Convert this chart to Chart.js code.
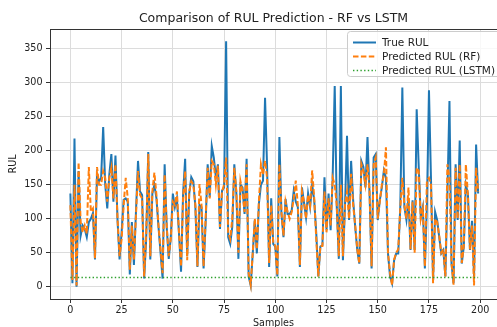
<!DOCTYPE html>
<html>
<head>
<meta charset="utf-8">
<script src="https://cdn.jsdelivr.net/npm/chart.js@4.4.0/dist/chart.umd.min.js"></script>
<style>
  html, body { margin: 0; padding: 0; overflow: hidden; background: #fff; }
</style>
</head>
<body>
<canvas id="myChart" width="497" height="340"></canvas>
<script>
// values, one per sample (0..199)
const trueRul = [
  137, 5, 218, 0, 170, 75, 90, 85, 73, 95,
  100, 108, 40, 165, 155, 160, 235, 150, 115, 165,
  195, 125, 193, 98, 40, 80, 128, 130, 125, 18,
  95, 32, 110, 185, 140, 135, 12, 70, 198, 40,
  137, 150, 130, 88, 50, 12, 180, 88, 41, 73,
  137, 117, 130, 78, 22, 137, 188, 45, 137, 161,
  155, 117, 29, 120, 117, 27, 93, 180, 132, 207,
  190, 161, 180, 85, 141, 146, 361, 73, 63, 88,
  180, 137, 41, 150, 146, 107, 188, 15, 2, 49,
  98, 49, 122, 150, 156, 278, 176, 29, 130, 63,
  59, 15, 220, 107, 73, 129, 107, 107, 112, 141,
  125, 117, 29, 146, 124, 102, 137, 117, 150, 127,
  78, 15, 59, 61, 161, 83, 137, 83, 161, 295,
  117, 41, 295, 39, 117, 222, 98, 185, 127, 88,
  54, 34, 185, 176, 146, 220, 137, 27, 190, 195,
  98, 127, 146, 171, 160, 49, 15, 5, 39, 49,
  49, 117, 293, 117, 98, 130, 54, 127, 54, 261,
  176, 102, 117, 27, 120, 289, 156, 10, 110, 98,
  73, 49, 54, 15, 137, 273, 34, 5, 180, 98,
  215, 34, 59, 150, 137, 54, 97, 15, 209, 137
];

const rfPred = [
  120, 10, 150, 2, 183, 95, 80, 90, 78, 176,
  110, 115, 42, 176, 150, 150, 170, 160, 125, 160,
  175, 130, 180, 100, 45, 70, 120, 160, 130, 25,
  90, 40, 105, 170, 135, 130, 15, 80, 195, 45,
  140, 168, 135, 90, 55, 20, 165, 90, 45, 70,
  125, 120, 140, 80, 30, 130, 170, 39, 140, 155,
  150, 120, 30, 151, 120, 30, 100, 175, 130, 185,
  180, 150, 178, 88, 140, 150, 190, 80, 70, 100,
  175, 140, 50, 155, 140, 110, 180, 20, 3, 50,
  100, 55, 125, 180, 165, 185, 160, 35, 120, 65,
  60, 17, 180, 110, 75, 125, 110, 100, 110, 130,
  156, 120, 32, 140, 125, 100, 135, 120, 171, 130,
  70, 15, 60, 60, 140, 80, 130, 90, 160, 150,
  120, 45, 150, 45, 120, 140, 100, 166, 120, 90,
  55, 34, 180, 170, 150, 180, 140, 30, 180, 190,
  100, 125, 150, 165, 205, 50, 20, 2, 40, 50,
  55, 115, 160, 120, 100, 146, 55, 125, 50, 175,
  170, 100, 115, 30, 156, 160, 150, 5, 100, 95,
  75, 50, 55, 15, 180, 160, 35, 3, 175, 100,
  180, 35, 60, 180, 135, 55, 90, 2, 175, 140
];

// LSTM predicts the same value for every sample
const lstmPred = [
  13.5, 13.5, 13.5, 13.5, 13.5, 13.5, 13.5, 13.5, 13.5, 13.5, 13.5, 13.5, 13.5, 13.5, 13.5, 13.5, 13.5, 13.5, 13.5, 13.5,
  13.5, 13.5, 13.5, 13.5, 13.5, 13.5, 13.5, 13.5, 13.5, 13.5, 13.5, 13.5, 13.5, 13.5, 13.5, 13.5, 13.5, 13.5, 13.5, 13.5,
  13.5, 13.5, 13.5, 13.5, 13.5, 13.5, 13.5, 13.5, 13.5, 13.5, 13.5, 13.5, 13.5, 13.5, 13.5, 13.5, 13.5, 13.5, 13.5, 13.5,
  13.5, 13.5, 13.5, 13.5, 13.5, 13.5, 13.5, 13.5, 13.5, 13.5, 13.5, 13.5, 13.5, 13.5, 13.5, 13.5, 13.5, 13.5, 13.5, 13.5,
  13.5, 13.5, 13.5, 13.5, 13.5, 13.5, 13.5, 13.5, 13.5, 13.5, 13.5, 13.5, 13.5, 13.5, 13.5, 13.5, 13.5, 13.5, 13.5, 13.5,
  13.5, 13.5, 13.5, 13.5, 13.5, 13.5, 13.5, 13.5, 13.5, 13.5, 13.5, 13.5, 13.5, 13.5, 13.5, 13.5, 13.5, 13.5, 13.5, 13.5,
  13.5, 13.5, 13.5, 13.5, 13.5, 13.5, 13.5, 13.5, 13.5, 13.5, 13.5, 13.5, 13.5, 13.5, 13.5, 13.5, 13.5, 13.5, 13.5, 13.5,
  13.5, 13.5, 13.5, 13.5, 13.5, 13.5, 13.5, 13.5, 13.5, 13.5, 13.5, 13.5, 13.5, 13.5, 13.5, 13.5, 13.5, 13.5, 13.5, 13.5,
  13.5, 13.5, 13.5, 13.5, 13.5, 13.5, 13.5, 13.5, 13.5, 13.5, 13.5, 13.5, 13.5, 13.5, 13.5, 13.5, 13.5, 13.5, 13.5, 13.5,
  13.5, 13.5, 13.5, 13.5, 13.5, 13.5, 13.5, 13.5, 13.5, 13.5, 13.5, 13.5, 13.5, 13.5, 13.5, 13.5, 13.5, 13.5, 13.5, 13.5
];

const xTicks = [0, 25, 50, 75, 100, 125, 150, 175, 200];
const yTicks = [0, 50, 100, 150, 200, 250, 300, 350];

const seriesNames = ['True RUL', 'Predicted RUL (RF)', 'Predicted RUL (LSTM)'];

const FONT = 'DejaVu Sans';
const tickFont = { family: FONT, size: 9.6 };

function toPoints(arr) {
  return arr.map(function (v, i) { return { x: i, y: v }; });
}

// matplotlib style box: top spine + legend frame
const frameAndLegend = {
  id: 'frameAndLegend',
  afterDraw(chart) {
    const ctx = chart.ctx;
    const a = chart.chartArea;
    ctx.save();
    ctx.strokeStyle = '#333';
    ctx.lineWidth = 1;
    ctx.beginPath();
    ctx.moveTo(a.left, a.top + 0.5);
    ctx.lineTo(a.right, a.top + 0.5);
    ctx.stroke();

    const bx = 347.5, by = 31.5, bw = 160, bh = 45;
    ctx.fillStyle = 'rgba(255,255,255,0.8)';
    ctx.strokeStyle = '#cccccc';
    ctx.beginPath();
    ctx.roundRect(bx, by, bw, bh, 3);
    ctx.fill();
    ctx.stroke();

    const styles = [
      { color: '#1f77b4', dash: [], width: 2 },
      { color: '#ff7f0e', dash: [5.5, 2.4], width: 2 },
      { color: '#2ca02c', dash: [1.4, 2.3], width: 1.5 }
    ];
    ctx.font = '10.5px "' + FONT + '"';
    ctx.textBaseline = 'middle';
    seriesNames.forEach(function (name, i) {
      const ly = 42.5 + i * 14;
      ctx.strokeStyle = styles[i].color;
      ctx.lineWidth = styles[i].width;
      ctx.setLineDash(styles[i].dash);
      ctx.beginPath();
      ctx.moveTo(353, ly);
      ctx.lineTo(376, ly);
      ctx.stroke();
      ctx.setLineDash([]);
      ctx.fillStyle = '#222';
      ctx.fillText(name, 382, ly + 0.5);
    });
    ctx.restore();
  }
};

new Chart(document.getElementById('myChart'), {
  type: 'line',
  data: {
    datasets: [
      {
        label: seriesNames[0],
        data: toPoints(trueRul),
        borderColor: '#1f77b4',
        borderWidth: 2,
        pointRadius: 0,
        tension: 0,
        order: 2
      },
      {
        label: seriesNames[1],
        data: toPoints(rfPred),
        borderColor: '#ff7f0e',
        borderWidth: 2,
        borderDash: [5.5, 2.4],
        pointRadius: 0,
        tension: 0,
        order: 1
      },
      {
        label: seriesNames[2],
        data: toPoints(lstmPred),
        borderColor: '#2ca02c',
        borderWidth: 1.5,
        borderDash: [1.4, 2.3],
        pointRadius: 0,
        tension: 0,
        order: 0
      }
    ]
  },
  options: {
    responsive: false,
    animation: false,
    events: [],
    layout: { padding: 0 },
    plugins: {
      legend: { display: false },
      tooltip: { enabled: false },
      title: {
        display: true,
        text: 'Comparison of RUL Prediction - RF vs LSTM',
        fullSize: false,
        color: '#222',
        font: { family: FONT, size: 12.5, weight: 'normal' },
        padding: { top: 11, bottom: 3 }
      }
    },
    scales: {
      x: {
        type: 'linear',
        min: -9.95,
        max: 208.2,
        afterBuildTicks: function (s) { s.ticks = xTicks.map(function (v) { return { value: v }; }); },
        afterFit: function (s) { s.height = 41; },
        ticks: { font: tickFont, color: '#222', padding: 2, maxRotation: 0, autoSkip: false },
        grid: { color: '#dcdcdc', tickColor: '#333', tickLength: 4 },
        border: { color: '#333', width: 1 },
        title: { display: true, text: 'Samples', color: '#222', font: { family: FONT, size: 9.6 }, padding: { top: 0, bottom: 11 } }
      },
      y: {
        min: -18.05,
        max: 379,
        afterBuildTicks: function (s) { s.ticks = yTicks.map(function (v) { return { value: v }; }); },
        afterFit: function (s) { s.width = 50; },
        ticks: { font: tickFont, color: '#222', padding: 3.5 },
        grid: { color: '#dcdcdc', tickColor: '#333', tickLength: 4 },
        border: { color: '#333', width: 1 },
        title: { display: true, text: 'RUL', color: '#222', font: { family: FONT, size: 9.6 }, padding: { top: 8, bottom: 0 } }
      }
    }
  },
  plugins: [frameAndLegend]
});
</script>
</body>
</html>
